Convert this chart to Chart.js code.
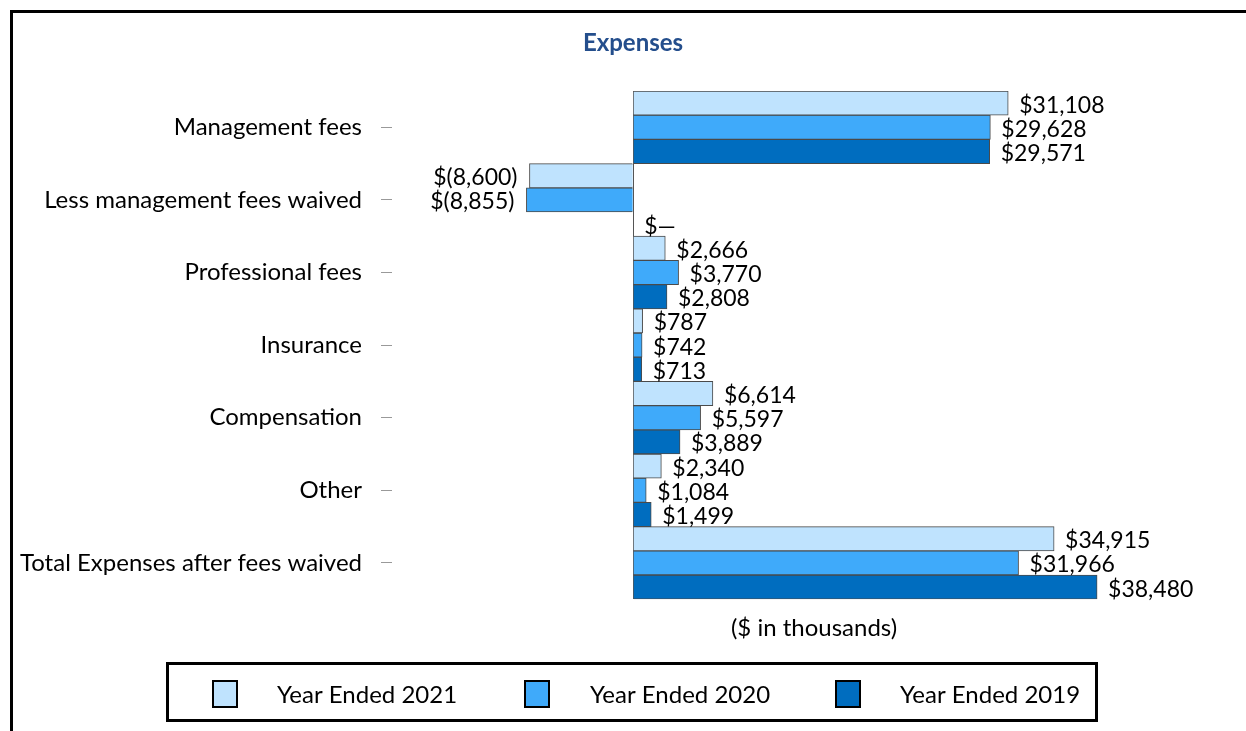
<!DOCTYPE html>
<html>
<head>
<meta charset="utf-8">
<script src="https://cdn.jsdelivr.net/npm/chart.js@4/dist/chart.umd.min.js"></script>
<style>
  html, body { margin: 0; padding: 0; background: #fff; }
  #wrap { width: 1246px; height: 731px; position: relative; }
</style>
</head>
<body>
<div id="wrap"><canvas id="c" width="1246" height="731"></canvas></div>
<script>
const categories = ["Management fees", "Less management fees waived", "Professional fees", "Insurance", "Compensation", "Other", "Total Expenses after fees waived"];
const seriesNames = ["Year Ended 2021", "Year Ended 2020", "Year Ended 2019"];
const values2021 = [31108, -8600, 2666, 787, 6614, 2340, 34915];
const values2020 = [29628, -8855, 3770, 742, 5597, 1084, 31966];
const values2019 = [29571, 0, 2808, 713, 3889, 1499, 38480];
const chartTitle = "Expenses";
const axisTitle = "($ in thousands)";

const colors = ["#BFE3FE", "#3FAAFA", "#006DBF"];
const FONT = "Lato";

function fmt(v) {
  if (v === 0) return "$\u2014";
  const s = Math.abs(v).toLocaleString("en-US");
  return v < 0 ? "$(" + s + ")" : "$" + s;
}

const framePlugin = {
  id: "frame",
  beforeDraw(chart) {
    const ctx = chart.ctx;
    ctx.save();
    ctx.fillStyle = "#fff";
    ctx.fillRect(0, 0, chart.width, chart.height);
    ctx.strokeStyle = "#000";
    ctx.lineWidth = 3;
    ctx.beginPath();
    ctx.moveTo(11.5, chart.height + 5);
    ctx.lineTo(11.5, 11.5);
    ctx.lineTo(chart.width + 5, 11.5);
    ctx.stroke();
    // title
    ctx.fillStyle = "#244E8C";
    ctx.font = "bold 24px " + FONT;
    ctx.textAlign = "center";
    ctx.textBaseline = "middle";
    ctx.fillText(chartTitle, 633, 43);
    ctx.restore();
  }
};

const labelPlugin = {
  id: "valueLabels",
  afterDatasetsDraw(chart) {
    const ctx = chart.ctx;
    ctx.save();
    ctx.font = "23px " + FONT;
    ctx.fillStyle = "#000";
    ctx.textBaseline = "middle";
    chart.data.datasets.forEach((ds, di) => {
      const meta = chart.getDatasetMeta(di);
      meta.data.forEach((bar, i) => {
        const v = ds.data[i];
        const y = bar.y + 2;
        if (v < 0) {
          ctx.textAlign = "right";
          ctx.fillText(fmt(v), bar.x - 12, y);
        } else {
          ctx.textAlign = "left";
          ctx.fillText(fmt(v), bar.x + 11, y);
        }
      });
    });
    ctx.restore();
  }
};

const legendPlugin = {
  id: "boxLegend",
  afterDraw(chart) {
    const ctx = chart.ctx;
    ctx.save();
    ctx.strokeStyle = "#000";
    ctx.lineWidth = 3;
    ctx.strokeRect(167.5, 663.5, 929, 57);
    const sx = [213, 525, 836];
    const tx = [277, 590, 900];
    ctx.font = "24px " + FONT;
    ctx.textBaseline = "middle";
    ctx.textAlign = "left";
    chart.data.datasets.forEach((ds, i) => {
      ctx.fillStyle = ds.backgroundColor;
      ctx.fillRect(sx[i], 681, 24, 26);
      ctx.lineWidth = 2;
      ctx.strokeStyle = "#000";
      ctx.strokeRect(sx[i], 681, 24, 26);
      ctx.fillStyle = "#000";
      ctx.fillText(ds.label, tx[i], 695);
    });
    ctx.restore();
  }
};

new Chart(document.getElementById("c"), {
  type: "bar",
  data: {
    labels: categories,
    datasets: [
      { label: seriesNames[0], data: values2021, backgroundColor: colors[0] },
      { label: seriesNames[1], data: values2020, backgroundColor: colors[1] },
      { label: seriesNames[2], data: values2019, backgroundColor: colors[2] }
    ].map(d => Object.assign(d, { borderColor: "#4a4a4a", borderWidth: 1, barPercentage: 1, categoryPercentage: 1 }))
  },
  options: {
    indexAxis: "y",
    responsive: false,
    animation: false,
    layout: { padding: { top: 91, right: 10, left: 0, bottom: 88 } },
    plugins: { legend: { display: false }, tooltip: { enabled: false }, title: { display: false } },
    scales: {
      x: {
        min: -20000, max: 50000,
        ticks: { display: false, stepSize: 10000 },
        grid: {
          drawTicks: false,
          color: c => (c.tick && c.tick.value === 0) ? "#555" : "rgba(0,0,0,0)",
          lineWidth: 1
        },
        border: { display: false },
        title: { display: true, text: axisTitle, font: { family: FONT, size: 24 }, color: "#000", padding: { top: 15, bottom: 0 } }
      },
      y: {
        afterFit(scale) { scale.width = 392; },
        ticks: { font: { family: FONT, size: 24 }, color: "#000", padding: 19, autoSkip: false },
        grid: { offset: false, drawOnChartArea: false, drawTicks: true, tickLength: 11, color: "#999" },
        border: { display: false }
      }
    }
  },
  plugins: [framePlugin, labelPlugin, legendPlugin]
});
</script>
</body>
</html>
